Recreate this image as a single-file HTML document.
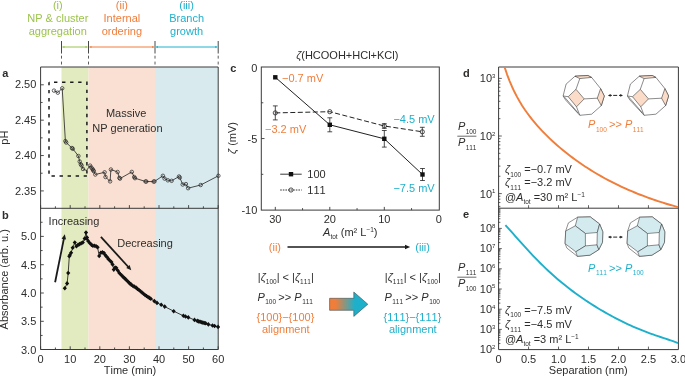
<!DOCTYPE html>
<html><head><meta charset="utf-8"><title>figure</title>
<style>html,body{margin:0;padding:0;background:#fff}svg{display:block;will-change:transform}text{font-family:"Liberation Sans",sans-serif;font-kerning:none}</style></head>
<body><svg width="685" height="377" viewBox="0 0 685 377" font-family="Liberation Sans, sans-serif">
<rect width="685" height="377" fill="#fff"/>
<text x="57.8" y="8.6" text-anchor="middle" fill="#9cc34c" font-size="11" >(i)</text>
<text x="57.8" y="21.799999999999997" text-anchor="middle" fill="#9cc34c" font-size="11" >NP &amp; cluster</text>
<text x="57.8" y="35.0" text-anchor="middle" fill="#9cc34c" font-size="11" >aggregation</text>
<text x="121.9" y="8.6" text-anchor="middle" fill="#f07d3a" font-size="11" >(ii)</text>
<text x="121.9" y="21.799999999999997" text-anchor="middle" fill="#f07d3a" font-size="11" >Internal</text>
<text x="121.9" y="35.0" text-anchor="middle" fill="#f07d3a" font-size="11" >ordering</text>
<text x="186.6" y="8.6" text-anchor="middle" fill="#1eb0cb" font-size="11" >(iii)</text>
<text x="186.6" y="21.799999999999997" text-anchor="middle" fill="#1eb0cb" font-size="11" >Branch</text>
<text x="186.6" y="35.0" text-anchor="middle" fill="#1eb0cb" font-size="11" >growth</text>
<line x1="62.5" y1="47" x2="87.5" y2="47" stroke="#9cc34c" stroke-width="1"/>
<path d="M62.3,47 l2.2,-1.1 v2.2z M87.7,47 l-2.2,-1.1 v2.2z" fill="#9cc34c"/>
<line x1="89.5" y1="47" x2="154" y2="47" stroke="#f07d3a" stroke-width="1"/>
<path d="M89.3,47 l2.2,-1.1 v2.2z M154.2,47 l-2.2,-1.1 v2.2z" fill="#f07d3a"/>
<line x1="156" y1="47" x2="217.2" y2="47" stroke="#1eb0cb" stroke-width="1"/>
<path d="M155.8,47 l2.2,-1.1 v2.2z M217.39999999999998,47 l-2.2,-1.1 v2.2z" fill="#1eb0cb"/>
<line x1="61.5" y1="41" x2="61.5" y2="53.5" stroke="#333" stroke-width="0.9"/>
<line x1="61.5" y1="55.7" x2="61.5" y2="66.5" stroke="#333" stroke-width="0.8" stroke-dasharray="2.9,3"/>
<line x1="88.5" y1="41" x2="88.5" y2="53.5" stroke="#333" stroke-width="0.9"/>
<line x1="88.5" y1="55.7" x2="88.5" y2="66.5" stroke="#333" stroke-width="0.8" stroke-dasharray="2.9,3"/>
<line x1="155" y1="41" x2="155" y2="53.5" stroke="#333" stroke-width="0.9"/>
<line x1="155" y1="55.7" x2="155" y2="66.5" stroke="#333" stroke-width="0.8" stroke-dasharray="2.9,3"/>
<line x1="218.2" y1="41" x2="218.2" y2="53.5" stroke="#333" stroke-width="0.9"/>
<line x1="218.2" y1="55.7" x2="218.2" y2="66.5" stroke="#333" stroke-width="0.8" stroke-dasharray="2.9,3"/>
<rect x="61.5" y="67" width="27" height="282.5" fill="#e2eabf"/>
<rect x="88.5" y="67" width="66.5" height="282.5" fill="#f9e0d2"/>
<rect x="155" y="67" width="63.19999999999999" height="282.5" fill="#d9eaee"/>
<path d="M40.6,67 H218.2 V349.5 H40.6 Z M40.6,208.3 H218.2" fill="none" stroke="#3a3a3a" stroke-width="1"/>
<path d="M40.60,349.5 v-3.2 M40.60,208.3 v-3.2 M55.40,349.5 v-2 M55.40,208.3 v-2 M70.20,349.5 v-3.2 M70.20,208.3 v-3.2 M85.00,349.5 v-2 M85.00,208.3 v-2 M99.80,349.5 v-3.2 M99.80,208.3 v-3.2 M114.60,349.5 v-2 M114.60,208.3 v-2 M129.40,349.5 v-3.2 M129.40,208.3 v-3.2 M144.20,349.5 v-2 M144.20,208.3 v-2 M159.00,349.5 v-3.2 M159.00,208.3 v-3.2 M173.80,349.5 v-2 M173.80,208.3 v-2 M188.60,349.5 v-3.2 M188.60,208.3 v-3.2 M203.40,349.5 v-2 M203.40,208.3 v-2 M218.20,349.5 v-3.2 M218.20,208.3 v-3.2 M40.6,84.80 h3.2 M40.6,102.48 h2 M40.6,120.17 h3.2 M40.6,137.86 h2 M40.6,155.54 h3.2 M40.6,173.22 h2 M40.6,190.91 h3.2 M40.6,222.25 h2 M40.6,236.40 h3.2 M40.6,250.55 h2 M40.6,264.70 h3.2 M40.6,278.85 h2 M40.6,293.00 h3.2 M40.6,307.15 h2 M40.6,321.30 h3.2 M40.6,335.45 h2" stroke="#3a3a3a" stroke-width="0.9" fill="none"/>
<text x="36.3" y="88.39999999999999" text-anchor="end" fill="#2e2d2c" font-size="11" >2.50</text>
<text x="36.3" y="123.76999999999987" text-anchor="end" fill="#2e2d2c" font-size="11" >2.45</text>
<text x="36.3" y="159.14000000000004" text-anchor="end" fill="#2e2d2c" font-size="11" >2.40</text>
<text x="36.3" y="194.5099999999999" text-anchor="end" fill="#2e2d2c" font-size="11" >2.35</text>
<text x="36.3" y="240.3" text-anchor="end" fill="#2e2d2c" font-size="11" >5.0</text>
<text x="36.3" y="268.59999999999997" text-anchor="end" fill="#2e2d2c" font-size="11" >4.5</text>
<text x="36.3" y="296.9" text-anchor="end" fill="#2e2d2c" font-size="11" >4.0</text>
<text x="36.3" y="325.2" text-anchor="end" fill="#2e2d2c" font-size="11" >3.5</text>
<text x="36.3" y="353.5" text-anchor="end" fill="#2e2d2c" font-size="11" >3.0</text>
<text x="40.6" y="362.7" text-anchor="middle" fill="#2e2d2c" font-size="11" >0</text>
<text x="70.2" y="362.7" text-anchor="middle" fill="#2e2d2c" font-size="11" >10</text>
<text x="99.80000000000001" y="362.7" text-anchor="middle" fill="#2e2d2c" font-size="11" >20</text>
<text x="129.4" y="362.7" text-anchor="middle" fill="#2e2d2c" font-size="11" >30</text>
<text x="159.0" y="362.7" text-anchor="middle" fill="#2e2d2c" font-size="11" >40</text>
<text x="188.6" y="362.7" text-anchor="middle" fill="#2e2d2c" font-size="11" >50</text>
<text x="218.2" y="362.7" text-anchor="middle" fill="#2e2d2c" font-size="11" >60</text>
<text x="130" y="374" text-anchor="middle" fill="#2e2d2c" font-size="11" >Time (min)</text>
<text x="2.3" y="76.5" text-anchor="start" fill="#2e2d2c" font-size="11" font-weight="bold">a</text>
<text x="2" y="218.5" text-anchor="start" fill="#2e2d2c" font-size="11" font-weight="bold">b</text>
<text transform="translate(8.4,137.6) rotate(-90)" text-anchor="middle" font-size="11" fill="#2e2d2c">pH</text>
<text transform="translate(8.4,279.3) rotate(-90)" text-anchor="middle" font-size="11" fill="#2e2d2c">Absorbance (arb. u.)</text>
<path d="M49,82.3 H86.9 V176" fill="none" stroke="#1a1a1a" stroke-width="1.5" stroke-dasharray="3.4,4.65" stroke-dashoffset="3.05"/>
<path d="M49,82.3 V176 H86.9" fill="none" stroke="#1a1a1a" stroke-width="1.5" stroke-dasharray="3.4,4.65" stroke-dashoffset="0.4"/>
<text x="146.3" y="116.7" text-anchor="end" fill="#2e2d2c" font-size="11" >Massive</text>
<text x="92.2" y="132.3" text-anchor="start" fill="#2e2d2c" font-size="11" >NP generation</text>
<polyline points="54,90.6 57.8,92.7 62.2,88.3 65.4,141.1 66.2,142.5 71.9,148 72.8,148.8 78.4,156 79.7,161.5 80.8,164.3 81.6,165.5 83,169 86.5,170.5 90.1,165.6 91.3,167.5 92.5,169 93.2,170.2 93.8,171.2 95.3,174.5 104.6,172.3 105.5,177 110.1,181.4 110.9,169.5 117.6,172 119.4,177.9 120,178.6 131.8,171.9 134.2,177 135,178.2 145.5,181.5 146.3,181.5 153.6,181.6 154.5,181.4 162.9,175.8 164.6,178.6 167.9,180.3 171.6,180.8 179,176.5 179.8,177.6 182.7,184.5 185.9,184.1 188.1,188.2 200.7,185 218.4,175.8" fill="none" stroke="#222" stroke-width="0.8"/>
<circle cx="54" cy="90.6" r="1.75" fill="none" stroke="#222" stroke-width="0.7"/>
<circle cx="57.8" cy="92.7" r="1.75" fill="none" stroke="#222" stroke-width="0.7"/>
<circle cx="62.2" cy="88.3" r="1.75" fill="none" stroke="#222" stroke-width="0.7"/>
<circle cx="65.4" cy="141.1" r="1.75" fill="none" stroke="#222" stroke-width="0.7"/>
<circle cx="66.2" cy="142.5" r="1.75" fill="none" stroke="#222" stroke-width="0.7"/>
<circle cx="71.9" cy="148" r="1.75" fill="none" stroke="#222" stroke-width="0.7"/>
<circle cx="72.8" cy="148.8" r="1.75" fill="none" stroke="#222" stroke-width="0.7"/>
<circle cx="78.4" cy="156" r="1.75" fill="none" stroke="#222" stroke-width="0.7"/>
<circle cx="79.7" cy="161.5" r="1.75" fill="none" stroke="#222" stroke-width="0.7"/>
<circle cx="80.8" cy="164.3" r="1.75" fill="none" stroke="#222" stroke-width="0.7"/>
<circle cx="81.6" cy="165.5" r="1.75" fill="none" stroke="#222" stroke-width="0.7"/>
<circle cx="83" cy="169" r="1.75" fill="none" stroke="#222" stroke-width="0.7"/>
<circle cx="90.1" cy="165.6" r="1.75" fill="none" stroke="#222" stroke-width="0.7"/>
<circle cx="91.3" cy="167.5" r="1.75" fill="none" stroke="#222" stroke-width="0.7"/>
<circle cx="92.5" cy="169" r="1.75" fill="none" stroke="#222" stroke-width="0.7"/>
<circle cx="93.2" cy="170.2" r="1.75" fill="none" stroke="#222" stroke-width="0.7"/>
<circle cx="93.8" cy="171.2" r="1.75" fill="none" stroke="#222" stroke-width="0.7"/>
<circle cx="95.3" cy="174.5" r="1.75" fill="none" stroke="#222" stroke-width="0.7"/>
<circle cx="104.6" cy="172.3" r="1.75" fill="none" stroke="#222" stroke-width="0.7"/>
<circle cx="105.5" cy="177" r="1.75" fill="none" stroke="#222" stroke-width="0.7"/>
<circle cx="110.1" cy="181.4" r="1.75" fill="none" stroke="#222" stroke-width="0.7"/>
<circle cx="110.9" cy="169.5" r="1.75" fill="none" stroke="#222" stroke-width="0.7"/>
<circle cx="117.6" cy="172" r="1.75" fill="none" stroke="#222" stroke-width="0.7"/>
<circle cx="119.4" cy="177.9" r="1.75" fill="none" stroke="#222" stroke-width="0.7"/>
<circle cx="120" cy="178.6" r="1.75" fill="none" stroke="#222" stroke-width="0.7"/>
<circle cx="131.8" cy="171.9" r="1.75" fill="none" stroke="#222" stroke-width="0.7"/>
<circle cx="134.2" cy="177" r="1.75" fill="none" stroke="#222" stroke-width="0.7"/>
<circle cx="135" cy="178.2" r="1.75" fill="none" stroke="#222" stroke-width="0.7"/>
<circle cx="145.5" cy="181.5" r="1.75" fill="none" stroke="#222" stroke-width="0.7"/>
<circle cx="146.3" cy="181.5" r="1.75" fill="none" stroke="#222" stroke-width="0.7"/>
<circle cx="153.6" cy="181.6" r="1.75" fill="none" stroke="#222" stroke-width="0.7"/>
<circle cx="154.5" cy="181.4" r="1.75" fill="none" stroke="#222" stroke-width="0.7"/>
<circle cx="162.9" cy="175.8" r="1.75" fill="none" stroke="#222" stroke-width="0.7"/>
<circle cx="164.6" cy="178.6" r="1.75" fill="none" stroke="#222" stroke-width="0.7"/>
<circle cx="167.9" cy="180.3" r="1.75" fill="none" stroke="#222" stroke-width="0.7"/>
<circle cx="171.6" cy="180.8" r="1.75" fill="none" stroke="#222" stroke-width="0.7"/>
<circle cx="179" cy="176.5" r="1.75" fill="none" stroke="#222" stroke-width="0.7"/>
<circle cx="179.8" cy="177.6" r="1.75" fill="none" stroke="#222" stroke-width="0.7"/>
<circle cx="182.7" cy="184.5" r="1.75" fill="none" stroke="#222" stroke-width="0.7"/>
<circle cx="185.9" cy="184.1" r="1.75" fill="none" stroke="#222" stroke-width="0.7"/>
<circle cx="188.1" cy="188.2" r="1.75" fill="none" stroke="#222" stroke-width="0.7"/>
<circle cx="200.7" cy="185" r="1.75" fill="none" stroke="#222" stroke-width="0.7"/>
<circle cx="218.4" cy="175.8" r="1.75" fill="none" stroke="#222" stroke-width="0.7"/>
<polyline points="64.8,288.3 67.1,283.4 68.2,273 69.3,256.3 70.1,254.7 71.1,252.8 72.7,247.8 74.8,242.5 76.4,246.2 78,244.9 79.6,244.1 81.2,243.2 82.8,242.5 84.7,238.6 86,232.6 87,237.6 88.1,240.9 89.7,243 91.3,244.6 92.9,245.7 94.5,245.7 96.1,246.2 97.6,247.3 99.2,256 100.8,252.8 102.4,252.4 104,253.1 105.1,254.7 106.1,256.3 107.2,257.3 108.3,258.9 109.8,260.5 111.4,262.1 112.6,264.5 113.8,269.6 115.1,267.5 116.4,268 117.8,270.5 119.1,272.8 120.5,274.2 121.8,275.5 123.1,276.9 124.4,278.1 125.8,279.4 127.1,280.8 128.4,282.1 129.7,283.4 131.2,284.6 132.7,285.7 134.2,286.6 136,287.6 137.5,288.9 139,290 140.5,291.3 142,292.5 143.5,293.8 145,295 146.5,296 148,297 149.4,297.9 150.8,298.7 154.3,301.1 157,302.9 161.2,304.7 164.7,306.6 173.7,311.2 183.4,315.8 185.5,316.5 188.3,317.4 194.5,319.9 197.3,320.9 198.7,321.4 200.1,321.8 201.5,322.2 202.9,322.6 204.3,323 205.6,323.3 208.4,324.4 212.5,325.5 214.6,326 218.1,326.9" fill="none" stroke="#111" stroke-width="0.8"/>
<path d="M64.8,286.0l2.1,2.3l-2.1,2.3l-2.1,-2.3zM67.1,281.09999999999997l2.1,2.3l-2.1,2.3l-2.1,-2.3zM68.2,270.7l2.1,2.3l-2.1,2.3l-2.1,-2.3zM69.3,254.0l2.1,2.3l-2.1,2.3l-2.1,-2.3zM70.1,252.39999999999998l2.1,2.3l-2.1,2.3l-2.1,-2.3zM71.1,250.5l2.1,2.3l-2.1,2.3l-2.1,-2.3zM72.7,245.5l2.1,2.3l-2.1,2.3l-2.1,-2.3zM74.8,240.2l2.1,2.3l-2.1,2.3l-2.1,-2.3zM76.4,243.89999999999998l2.1,2.3l-2.1,2.3l-2.1,-2.3zM78,242.6l2.1,2.3l-2.1,2.3l-2.1,-2.3zM79.6,241.79999999999998l2.1,2.3l-2.1,2.3l-2.1,-2.3zM81.2,240.89999999999998l2.1,2.3l-2.1,2.3l-2.1,-2.3zM82.8,240.2l2.1,2.3l-2.1,2.3l-2.1,-2.3zM84.7,236.29999999999998l2.1,2.3l-2.1,2.3l-2.1,-2.3zM86,230.29999999999998l2.1,2.3l-2.1,2.3l-2.1,-2.3zM87,235.29999999999998l2.1,2.3l-2.1,2.3l-2.1,-2.3zM88.1,238.6l2.1,2.3l-2.1,2.3l-2.1,-2.3zM89.7,240.7l2.1,2.3l-2.1,2.3l-2.1,-2.3zM91.3,242.29999999999998l2.1,2.3l-2.1,2.3l-2.1,-2.3zM92.9,243.39999999999998l2.1,2.3l-2.1,2.3l-2.1,-2.3zM94.5,243.39999999999998l2.1,2.3l-2.1,2.3l-2.1,-2.3zM96.1,243.89999999999998l2.1,2.3l-2.1,2.3l-2.1,-2.3zM97.6,245.0l2.1,2.3l-2.1,2.3l-2.1,-2.3zM99.2,253.7l2.1,2.3l-2.1,2.3l-2.1,-2.3zM100.8,250.5l2.1,2.3l-2.1,2.3l-2.1,-2.3zM102.4,250.1l2.1,2.3l-2.1,2.3l-2.1,-2.3zM104,250.79999999999998l2.1,2.3l-2.1,2.3l-2.1,-2.3zM105.1,252.39999999999998l2.1,2.3l-2.1,2.3l-2.1,-2.3zM106.1,254.0l2.1,2.3l-2.1,2.3l-2.1,-2.3zM107.2,255.0l2.1,2.3l-2.1,2.3l-2.1,-2.3zM108.3,256.59999999999997l2.1,2.3l-2.1,2.3l-2.1,-2.3zM109.8,258.2l2.1,2.3l-2.1,2.3l-2.1,-2.3zM111.4,259.8l2.1,2.3l-2.1,2.3l-2.1,-2.3zM112.6,262.2l2.1,2.3l-2.1,2.3l-2.1,-2.3zM113.8,267.3l2.1,2.3l-2.1,2.3l-2.1,-2.3zM115.1,265.2l2.1,2.3l-2.1,2.3l-2.1,-2.3zM116.4,265.7l2.1,2.3l-2.1,2.3l-2.1,-2.3zM117.8,268.2l2.1,2.3l-2.1,2.3l-2.1,-2.3zM119.1,270.5l2.1,2.3l-2.1,2.3l-2.1,-2.3zM120.5,271.9l2.1,2.3l-2.1,2.3l-2.1,-2.3zM121.8,273.2l2.1,2.3l-2.1,2.3l-2.1,-2.3zM123.1,274.59999999999997l2.1,2.3l-2.1,2.3l-2.1,-2.3zM124.4,275.8l2.1,2.3l-2.1,2.3l-2.1,-2.3zM125.8,277.09999999999997l2.1,2.3l-2.1,2.3l-2.1,-2.3zM127.1,278.5l2.1,2.3l-2.1,2.3l-2.1,-2.3zM128.4,279.8l2.1,2.3l-2.1,2.3l-2.1,-2.3zM129.7,281.09999999999997l2.1,2.3l-2.1,2.3l-2.1,-2.3zM131.2,282.3l2.1,2.3l-2.1,2.3l-2.1,-2.3zM132.7,283.4l2.1,2.3l-2.1,2.3l-2.1,-2.3zM134.2,284.3l2.1,2.3l-2.1,2.3l-2.1,-2.3zM136,285.3l2.1,2.3l-2.1,2.3l-2.1,-2.3zM137.5,286.59999999999997l2.1,2.3l-2.1,2.3l-2.1,-2.3zM139,287.7l2.1,2.3l-2.1,2.3l-2.1,-2.3zM140.5,289.0l2.1,2.3l-2.1,2.3l-2.1,-2.3zM142,290.2l2.1,2.3l-2.1,2.3l-2.1,-2.3zM143.5,291.5l2.1,2.3l-2.1,2.3l-2.1,-2.3zM145,292.7l2.1,2.3l-2.1,2.3l-2.1,-2.3zM146.5,293.7l2.1,2.3l-2.1,2.3l-2.1,-2.3zM148,294.7l2.1,2.3l-2.1,2.3l-2.1,-2.3zM149.4,295.59999999999997l2.1,2.3l-2.1,2.3l-2.1,-2.3zM150.8,296.4l2.1,2.3l-2.1,2.3l-2.1,-2.3zM154.3,298.8l2.1,2.3l-2.1,2.3l-2.1,-2.3zM157,300.59999999999997l2.1,2.3l-2.1,2.3l-2.1,-2.3zM161.2,302.4l2.1,2.3l-2.1,2.3l-2.1,-2.3zM164.7,304.3l2.1,2.3l-2.1,2.3l-2.1,-2.3zM173.7,308.9l2.1,2.3l-2.1,2.3l-2.1,-2.3zM183.4,313.5l2.1,2.3l-2.1,2.3l-2.1,-2.3zM185.5,314.2l2.1,2.3l-2.1,2.3l-2.1,-2.3zM188.3,315.09999999999997l2.1,2.3l-2.1,2.3l-2.1,-2.3zM194.5,317.59999999999997l2.1,2.3l-2.1,2.3l-2.1,-2.3zM197.3,318.59999999999997l2.1,2.3l-2.1,2.3l-2.1,-2.3zM198.7,319.09999999999997l2.1,2.3l-2.1,2.3l-2.1,-2.3zM200.1,319.5l2.1,2.3l-2.1,2.3l-2.1,-2.3zM201.5,319.9l2.1,2.3l-2.1,2.3l-2.1,-2.3zM202.9,320.3l2.1,2.3l-2.1,2.3l-2.1,-2.3zM204.3,320.7l2.1,2.3l-2.1,2.3l-2.1,-2.3zM205.6,321.0l2.1,2.3l-2.1,2.3l-2.1,-2.3zM208.4,322.09999999999997l2.1,2.3l-2.1,2.3l-2.1,-2.3zM212.5,323.2l2.1,2.3l-2.1,2.3l-2.1,-2.3zM214.6,323.7l2.1,2.3l-2.1,2.3l-2.1,-2.3zM218.1,324.59999999999997l2.1,2.3l-2.1,2.3l-2.1,-2.3z" fill="#111"/>
<text x="48.6" y="225.2" text-anchor="start" fill="#2e2d2c" font-size="11" >Increasing</text>
<text x="117.2" y="247.3" text-anchor="start" fill="#2e2d2c" font-size="11" >Decreasing</text>
<line x1="55.1" y1="282.2" x2="64.01" y2="238.12" stroke="#1a1a1a" stroke-width="1.8"/>
<path d="M64.80,234.20 L66.06,239.56 L61.56,238.65z" fill="#1a1a1a"/>
<line x1="100.9" y1="236.9" x2="128.60" y2="267.25" stroke="#1a1a1a" stroke-width="1.8"/>
<path d="M131.30,270.20 L126.23,268.06 L129.63,264.96z" fill="#1a1a1a"/>
<rect x="261.3" y="67" width="178.0" height="143.1" fill="none" stroke="#3a3a3a" stroke-width="1"/>
<path d="M275.30,210.1 v-3.2 M302.55,210.1 v-2 M329.80,210.1 v-3.2 M357.05,210.1 v-2 M384.30,210.1 v-3.2 M411.55,210.1 v-2 M261.3,102.78 h2 M261.3,138.55 h3.2 M261.3,174.32 h2" stroke="#3a3a3a" stroke-width="0.9" fill="none"/>
<text x="257.3" y="71.5" text-anchor="end" fill="#2e2d2c" font-size="11" >0</text>
<text x="257.3" y="142.9" text-anchor="end" fill="#2e2d2c" font-size="11" >-5</text>
<text x="257.3" y="214" text-anchor="end" fill="#2e2d2c" font-size="11" >-10</text>
<text x="275.3" y="223.1" text-anchor="middle" fill="#2e2d2c" font-size="11" >30</text>
<text x="329.8" y="223.1" text-anchor="middle" fill="#2e2d2c" font-size="11" >20</text>
<text x="384.3" y="223.1" text-anchor="middle" fill="#2e2d2c" font-size="11" >10</text>
<text x="438.8" y="223.1" text-anchor="middle" fill="#2e2d2c" font-size="11" >0</text>
<text x="230.3" y="71.9" text-anchor="start" fill="#2e2d2c" font-size="11" font-weight="bold">c</text>
<text x="347.3" y="58.9" text-anchor="middle" font-size="11" fill="#2e2d2c"><tspan font-style="italic">ζ</tspan>(HCOOH+HCl+KCl)</text>
<text transform="translate(235.6,138) rotate(-90)" text-anchor="middle" font-size="11" fill="#2e2d2c"><tspan font-style="italic">ζ</tspan> (mV)</text>
<text x="323.1" y="235.9" font-size="11" fill="#2e2d2c"><tspan font-style="italic">A</tspan><tspan font-size="6.5" dy="2.6">tot</tspan><tspan dy="-2.6"> (m² L</tspan><tspan font-size="6.5" dy="-4">−1</tspan><tspan dy="4">)</tspan></text>
<polyline points="275.3,77.3 329.8,124.8 384.3,138.8 422.5,174.5" fill="none" stroke="#222" stroke-width="1"/>
<polyline points="275.3,112.9 329.8,111.7 384.3,126 422.3,131.8" fill="none" stroke="#222" stroke-width="1" stroke-dasharray="5,2.5"/>
<path d="M329.8,117.8V131.8M327.40000000000003,117.8h4.8M327.40000000000003,131.8h4.8M384.3,130.5V147.10000000000002M381.90000000000003,130.5h4.8M381.90000000000003,147.10000000000002h4.8M422.5,168.5V180.5M420.1,168.5h4.8M420.1,180.5h4.8M275.3,105.9V119.9M272.90000000000003,105.9h4.8M272.90000000000003,119.9h4.8M384.3,123.7V128.3M381.90000000000003,123.7h4.8M381.90000000000003,128.3h4.8M422.3,127.30000000000001V136.3M419.90000000000003,127.30000000000001h4.8M419.90000000000003,136.3h4.8" stroke="#222" stroke-width="0.8" fill="none"/>
<rect x="273.1" y="75.1" width="4.4" height="4.4" fill="#111"/>
<rect x="327.6" y="122.6" width="4.4" height="4.4" fill="#111"/>
<rect x="382.1" y="136.60000000000002" width="4.4" height="4.4" fill="#111"/>
<rect x="420.3" y="172.3" width="4.4" height="4.4" fill="#111"/>
<circle cx="275.3" cy="112.9" r="2.1" fill="none" stroke="#222" stroke-width="0.8"/>
<circle cx="329.8" cy="111.7" r="2.1" fill="none" stroke="#222" stroke-width="0.8"/>
<circle cx="384.3" cy="126" r="2.1" fill="none" stroke="#222" stroke-width="0.8"/>
<circle cx="422.3" cy="131.8" r="2.1" fill="none" stroke="#222" stroke-width="0.8"/>
<text x="282" y="81.5" text-anchor="start" fill="#f07d3a" font-size="11" >−0.7 mV</text>
<text x="265" y="132.7" text-anchor="start" fill="#f07d3a" font-size="11" >−3.2 mV</text>
<text x="393.4" y="123.4" text-anchor="start" fill="#1eb0cb" font-size="11" >−4.5 mV</text>
<text x="393.4" y="192" text-anchor="start" fill="#1eb0cb" font-size="11" >−7.5 mV</text>
<line x1="280.2" y1="174.2" x2="301.7" y2="174.2" stroke="#222" stroke-width="0.9"/><rect x="288.8" y="172" width="4.4" height="4.4" fill="#111"/>
<line x1="280.2" y1="190" x2="301.7" y2="190" stroke="#222" stroke-width="0.9" stroke-dasharray="1.6,1"/><circle cx="291" cy="190" r="2.1" fill="none" stroke="#222" stroke-width="0.8"/>
<text x="307.3" y="177.7" text-anchor="start" fill="#2e2d2c" font-size="11" >100</text>
<text x="307.3" y="193.5" text-anchor="start" fill="#2e2d2c" font-size="11" >111</text>
<text x="268.8" y="250.8" text-anchor="start" fill="#f07d3a" font-size="11" >(ii)</text>
<text x="415.3" y="250.8" text-anchor="start" fill="#1eb0cb" font-size="11" >(iii)</text>
<line x1="287.5" y1="247" x2="406.00" y2="247.00" stroke="#1a1a1a" stroke-width="1.4"/>
<path d="M410.20,247.00 L405.00,249.30 L405.00,244.70z" fill="#1a1a1a"/>
<text x="285.8" y="281.2" text-anchor="middle" font-size="11" fill="#2e2d2c">|<tspan font-style="italic">ζ</tspan><tspan font-size="6.5" dy="2.8">100</tspan><tspan dy="-2.8">| &lt; |</tspan><tspan font-style="italic">ζ</tspan><tspan font-size="6.5" dy="2.8">111</tspan><tspan dy="-2.8">|</tspan></text>
<text x="285.2" y="300.5" text-anchor="middle" font-size="11" fill="#2e2d2c"><tspan font-style="italic">P</tspan><tspan font-size="6.5" dy="3.4" dx="0.5">100</tspan><tspan dy="-3.4" dx="-0.8"> &gt;&gt; </tspan><tspan font-style="italic">P</tspan><tspan font-size="6.5" dy="3.4" dx="0.5">111</tspan></text>
<text x="285.4" y="321.3" text-anchor="middle" fill="#f07d3a" font-size="11" >{100}−{100}</text>
<text x="285.8" y="333" text-anchor="middle" fill="#f07d3a" font-size="11" >alignment</text>
<text x="412.8" y="281.2" text-anchor="middle" font-size="11" fill="#2e2d2c">|<tspan font-style="italic">ζ</tspan><tspan font-size="6.5" dy="2.8">111</tspan><tspan dy="-2.8">| &lt; |</tspan><tspan font-style="italic">ζ</tspan><tspan font-size="6.5" dy="2.8">100</tspan><tspan dy="-2.8">|</tspan></text>
<text x="412.2" y="300.5" text-anchor="middle" font-size="11" fill="#2e2d2c"><tspan font-style="italic">P</tspan><tspan font-size="6.5" dy="3.4" dx="0.5">111</tspan><tspan dy="-3.4" dx="-0.8"> &gt;&gt; </tspan><tspan font-style="italic">P</tspan><tspan font-size="6.5" dy="3.4" dx="0.5">100</tspan></text>
<text x="412.4" y="321.3" text-anchor="middle" fill="#1eb0cb" font-size="11" >{111}−{111}</text>
<text x="412.8" y="333" text-anchor="middle" fill="#1eb0cb" font-size="11" >alignment</text>
<defs><linearGradient id="g" x1="0" x2="1" y1="0" y2="0"><stop offset="0.15" stop-color="#f07d3a"/><stop offset="0.66" stop-color="#1eb0cb"/></linearGradient></defs>
<path d="M329.6,298.3 H353.8 V292 L367.8,304.2 L353.8,316.4 V310.3 H329.6Z" fill="url(#g)" stroke="#3f4a4e" stroke-width="0.6"/>
<path d="M498.6,67 H678.4 V349.6 H498.6 Z M498.6,208.2 H678.4" fill="none" stroke="#3a3a3a" stroke-width="1"/>
<path d="M528.57,208.2 v-3 M528.57,349.6 v-3 M558.53,208.2 v-3 M558.53,349.6 v-3 M588.50,208.2 v-3 M588.50,349.6 v-3 M618.47,208.2 v-3 M618.47,349.6 v-3 M648.43,208.2 v-3 M648.43,349.6 v-3 M498.6,206.38 h1.8 M498.6,202.52 h1.8 M498.6,199.18 h1.8 M498.6,196.24 h1.8 M498.6,193.60 h3.2 M498.6,176.26 h1.8 M498.6,166.12 h1.8 M498.6,158.92 h1.8 M498.6,153.34 h1.8 M498.6,148.78 h1.8 M498.6,144.92 h1.8 M498.6,141.58 h1.8 M498.6,138.64 h1.8 M498.6,136.00 h3.2 M498.6,118.66 h1.8 M498.6,108.52 h1.8 M498.6,101.32 h1.8 M498.6,95.74 h1.8 M498.6,91.18 h1.8 M498.6,87.32 h1.8 M498.6,83.98 h1.8 M498.6,81.04 h1.8 M498.6,78.40 h3.2 M498.6,343.52 h1.8 M498.6,339.96 h1.8 M498.6,337.44 h1.8 M498.6,335.48 h1.8 M498.6,333.88 h1.8 M498.6,332.53 h1.8 M498.6,331.36 h1.8 M498.6,330.32 h1.8 M498.6,329.40 h3.2 M498.6,323.32 h1.8 M498.6,319.76 h1.8 M498.6,317.24 h1.8 M498.6,315.28 h1.8 M498.6,313.68 h1.8 M498.6,312.33 h1.8 M498.6,311.16 h1.8 M498.6,310.12 h1.8 M498.6,309.20 h3.2 M498.6,303.12 h1.8 M498.6,299.56 h1.8 M498.6,297.04 h1.8 M498.6,295.08 h1.8 M498.6,293.48 h1.8 M498.6,292.13 h1.8 M498.6,290.96 h1.8 M498.6,289.92 h1.8 M498.6,289.00 h3.2 M498.6,282.92 h1.8 M498.6,279.36 h1.8 M498.6,276.84 h1.8 M498.6,274.88 h1.8 M498.6,273.28 h1.8 M498.6,271.93 h1.8 M498.6,270.76 h1.8 M498.6,269.72 h1.8 M498.6,268.80 h3.2 M498.6,262.72 h1.8 M498.6,259.16 h1.8 M498.6,256.64 h1.8 M498.6,254.68 h1.8 M498.6,253.08 h1.8 M498.6,251.73 h1.8 M498.6,250.56 h1.8 M498.6,249.52 h1.8 M498.6,248.60 h3.2 M498.6,242.52 h1.8 M498.6,238.96 h1.8 M498.6,236.44 h1.8 M498.6,234.48 h1.8 M498.6,232.88 h1.8 M498.6,231.53 h1.8 M498.6,230.36 h1.8 M498.6,229.32 h1.8 M498.6,228.40 h3.2 M498.6,222.32 h1.8 M498.6,218.76 h1.8 M498.6,216.24 h1.8 M498.6,214.28 h1.8 M498.6,212.68 h1.8 M498.6,211.33 h1.8 M498.6,210.16 h1.8 M498.6,209.12 h1.8" stroke="#3a3a3a" stroke-width="0.8" fill="none"/>
<text x="495.4" y="197.5" text-anchor="end" font-size="11" fill="#2e2d2c">10<tspan font-size="6" dy="-4.2">1</tspan></text>
<text x="495.4" y="139.9" text-anchor="end" font-size="11" fill="#2e2d2c">10<tspan font-size="6" dy="-4.2">2</tspan></text>
<text x="495.4" y="82.3" text-anchor="end" font-size="11" fill="#2e2d2c">10<tspan font-size="6" dy="-4.2">3</tspan></text>
<text x="495.4" y="353.20000000000005" text-anchor="end" font-size="11" fill="#2e2d2c">10<tspan font-size="6" dy="-4.2">2</tspan></text>
<text x="495.4" y="333.00000000000006" text-anchor="end" font-size="11" fill="#2e2d2c">10<tspan font-size="6" dy="-4.2">3</tspan></text>
<text x="495.4" y="312.80000000000007" text-anchor="end" font-size="11" fill="#2e2d2c">10<tspan font-size="6" dy="-4.2">4</tspan></text>
<text x="495.4" y="292.6" text-anchor="end" font-size="11" fill="#2e2d2c">10<tspan font-size="6" dy="-4.2">5</tspan></text>
<text x="495.4" y="272.40000000000003" text-anchor="end" font-size="11" fill="#2e2d2c">10<tspan font-size="6" dy="-4.2">6</tspan></text>
<text x="495.4" y="252.20000000000002" text-anchor="end" font-size="11" fill="#2e2d2c">10<tspan font-size="6" dy="-4.2">7</tspan></text>
<text x="495.4" y="232.00000000000003" text-anchor="end" font-size="11" fill="#2e2d2c">10<tspan font-size="6" dy="-4.2">8</tspan></text>
<text x="498.6" y="362.7" text-anchor="middle" fill="#2e2d2c" font-size="11" >0</text>
<text x="528.5666666666667" y="362.7" text-anchor="middle" fill="#2e2d2c" font-size="11" >0.5</text>
<text x="558.5333333333333" y="362.7" text-anchor="middle" fill="#2e2d2c" font-size="11" >1.0</text>
<text x="588.5" y="362.7" text-anchor="middle" fill="#2e2d2c" font-size="11" >1.5</text>
<text x="618.4666666666667" y="362.7" text-anchor="middle" fill="#2e2d2c" font-size="11" >2.0</text>
<text x="648.4333333333333" y="362.7" text-anchor="middle" fill="#2e2d2c" font-size="11" >2.5</text>
<text x="678.4" y="362.7" text-anchor="middle" fill="#2e2d2c" font-size="11" >3.0</text>
<text x="588.3" y="374" text-anchor="middle" fill="#2e2d2c" font-size="11" >Separation (nm)</text>
<text x="463.1" y="76.8" text-anchor="start" fill="#2e2d2c" font-size="11" font-weight="bold">d</text>
<text x="463.1" y="217.8" text-anchor="start" fill="#2e2d2c" font-size="11" font-weight="bold">e</text>
<text x="457.9" y="129.5" font-size="11" fill="#2e2d2c"><tspan font-style="italic">P</tspan><tspan font-size="6.5" dy="4.2" dx="0.4">100</tspan></text>
<line x1="457.3" y1="136.2" x2="476.4" y2="136.2" stroke="#2e2d2c" stroke-width="0.7"/>
<text x="457.9" y="145.6" font-size="11" fill="#2e2d2c"><tspan font-style="italic">P</tspan><tspan font-size="6.5" dy="4.2" dx="0.4">111</tspan></text>
<text x="457.9" y="271" font-size="11" fill="#2e2d2c"><tspan font-style="italic">P</tspan><tspan font-size="6.5" dy="4.2" dx="0.4">111</tspan></text>
<line x1="457.3" y1="277.2" x2="476.4" y2="277.2" stroke="#2e2d2c" stroke-width="0.7"/>
<text x="457.9" y="287.2" font-size="11" fill="#2e2d2c"><tspan font-style="italic">P</tspan><tspan font-size="6.5" dy="4.2" dx="0.4">100</tspan></text>
<text x="504.9" y="172.8" font-size="11" fill="#2e2d2c"><tspan font-style="italic">ζ</tspan><tspan font-size="6.5" dy="3.9" dx="0.3">100</tspan><tspan dy="-3.9"> =−0.7 mV</tspan></text>
<text x="504.9" y="186.3" font-size="11" fill="#2e2d2c"><tspan font-style="italic">ζ</tspan><tspan font-size="6.5" dy="3.9" dx="0.3">111</tspan><tspan dy="-3.9"> =−3.2 mV</tspan></text>
<text x="504.9" y="200.6" font-size="11" fill="#2e2d2c">@<tspan font-style="italic">A</tspan><tspan font-size="6.5" dy="3.3">tot</tspan><tspan dy="-3.3"> =30 m² L</tspan><tspan font-size="6.5" dy="-4">−1</tspan></text>
<text x="504.9" y="313.5" font-size="11" fill="#2e2d2c"><tspan font-style="italic">ζ</tspan><tspan font-size="6.5" dy="3.9" dx="0.3">100</tspan><tspan dy="-3.9"> =−7.5 mV</tspan></text>
<text x="504.9" y="328" font-size="11" fill="#2e2d2c"><tspan font-style="italic">ζ</tspan><tspan font-size="6.5" dy="3.9" dx="0.3">111</tspan><tspan dy="-3.9"> =−4.5 mV</tspan></text>
<text x="504.9" y="342.6" font-size="11" fill="#2e2d2c">@<tspan font-style="italic">A</tspan><tspan font-size="6.5" dy="3.3">tot</tspan><tspan dy="-3.3"> =3 m² L</tspan><tspan font-size="6.5" dy="-4">−1</tspan></text>
<polyline points="504.60,67.13 507.11,74.54 509.63,81.11 512.14,86.99 514.65,92.29 517.17,97.12 519.68,101.55 522.19,105.65 524.70,109.47 527.22,113.05 529.73,116.43 532.24,119.63 534.76,122.68 537.27,125.60 539.78,128.40 542.30,131.09 544.81,133.69 547.32,136.19 549.83,138.62 552.35,140.98 554.86,143.27 557.37,145.49 559.89,147.65 562.40,149.75 564.91,151.80 567.43,153.79 569.94,155.74 572.45,157.63 574.97,159.48 577.48,161.28 579.99,163.04 582.50,164.76 585.02,166.44 587.53,168.07 590.04,169.67 592.56,171.23 595.07,172.75 597.58,174.23 600.10,175.68 602.61,177.10 605.12,178.48 607.63,179.83 610.15,181.15 612.66,182.44 615.17,183.70 617.69,184.92 620.20,186.12 622.71,187.29 625.23,188.44 627.74,189.55 630.25,190.64 632.77,191.71 635.28,192.75 637.79,193.76 640.30,194.75 642.82,195.72 645.33,196.67 647.84,197.59 650.36,198.49 652.87,199.37 655.38,200.23 657.90,201.07 660.41,201.89 662.92,202.69 665.43,203.47 667.95,204.24 670.46,204.98 672.97,205.71 675.49,206.42 678.00,207.12" fill="none" stroke="#f07d3a" stroke-width="1.9" stroke-linejoin="round"/>
<polyline points="505.40,225.15 507.90,227.89 510.40,230.67 512.90,233.47 515.41,236.29 517.91,239.10 520.41,241.90 522.91,244.69 525.41,247.45 527.91,250.18 530.41,252.87 532.92,255.53 535.42,258.14 537.92,260.71 540.42,263.22 542.92,265.69 545.42,268.10 547.92,270.47 550.43,272.78 552.93,275.04 555.43,277.25 557.93,279.41 560.43,281.52 562.93,283.58 565.43,285.60 567.94,287.57 570.44,289.49 572.94,291.38 575.44,293.22 577.94,295.03 580.44,296.79 582.94,298.52 585.45,300.22 587.95,301.88 590.45,303.51 592.95,305.10 595.45,306.67 597.95,308.20 600.46,309.70 602.96,311.18 605.46,312.62 607.96,314.04 610.46,315.42 612.96,316.78 615.46,318.11 617.97,319.40 620.47,320.67 622.97,321.91 625.47,323.12 627.97,324.29 630.47,325.44 632.97,326.56 635.48,327.64 637.98,328.69 640.48,329.72 642.98,330.71 645.48,331.68 647.98,332.62 650.48,333.53 652.99,334.42 655.49,335.29 657.99,336.15 660.49,336.99 662.99,337.83 665.49,338.66 667.99,339.50 670.50,340.35 673.00,341.22 675.50,342.12 678.00,343.06" fill="none" stroke="#1eb0cb" stroke-width="1.9" stroke-linejoin="round"/>
<text x="588.1" y="128.1" text-anchor="start" font-size="11" fill="#f07d3a"><tspan font-style="italic">P</tspan><tspan font-size="6.5" dy="3.4" dx="0.5">100</tspan><tspan dy="-3.4" dx="-0.8"> &gt;&gt; </tspan><tspan font-style="italic">P</tspan><tspan font-size="6.5" dy="3.4" dx="0.5">111</tspan></text>
<text x="588.1" y="271.5" text-anchor="start" font-size="11" fill="#1eb0cb"><tspan font-style="italic">P</tspan><tspan font-size="6.5" dy="3.4" dx="0.5">111</tspan><tspan dy="-3.4" dx="-0.8"> &gt;&gt; </tspan><tspan font-style="italic">P</tspan><tspan font-size="6.5" dy="3.4" dx="0.5">100</tspan></text>
<g transform="translate(0.3,0.5)" stroke="#2c2c2c" stroke-width="0.55" stroke-linejoin="round" fill="none"><path d="M639,75.7 L651.9,75 L655.6,76.9 L664.6,88.1 L668.3,95.5 L665.3,105.1 L655.6,113.7 L643.8,114.8 L629.6,99.5 L627.1,95.5 L630.1,83.6Z" fill="#fff"/><path d="M639,75.7 L651.9,75 L655.6,76.9 L643.8,78.1Z" fill="#fbdcc8"/><path d="M640,88.8 L648.2,98.4 L640.5,106.3 L632.2,96.2Z" fill="#fbdcc8"/><path d="M664.6,88.1 L668.3,95.5 L665.3,105.1 L661.3,97.7Z" fill="#fbdcc8"/><path d="M643.8,78.1 L640,88.8 M648.2,98.4 L661.3,97.7 M640.5,106.3 L643.8,114.8 M632.2,96.2 L627.1,95.5 M628.2,96.2 L642.3,112.6"/></g>
<g transform="translate(-64.0,0.5)" stroke="#2c2c2c" stroke-width="0.55" stroke-linejoin="round" fill="none"><path d="M639,75.7 L651.9,75 L655.6,76.9 L664.6,88.1 L668.3,95.5 L665.3,105.1 L655.6,113.7 L643.8,114.8 L629.6,99.5 L627.1,95.5 L630.1,83.6Z" fill="#fff"/><path d="M639,75.7 L651.9,75 L655.6,76.9 L643.8,78.1Z" fill="#fbdcc8"/><path d="M640,88.8 L648.2,98.4 L640.5,106.3 L632.2,96.2Z" fill="#fbdcc8"/><path d="M664.6,88.1 L668.3,95.5 L665.3,105.1 L661.3,97.7Z" fill="#fbdcc8"/><path d="M643.8,78.1 L640,88.8 M648.2,98.4 L661.3,97.7 M640.5,106.3 L643.8,114.8 M632.2,96.2 L627.1,95.5 M628.2,96.2 L642.3,112.6"/></g>
<path d="M609.4,95.4H611.9M613.1999999999999,95.4H617.1999999999999M619.0,95.4H621.5" stroke="#222" stroke-width="1" fill="none"/>
<path d="M607.9,95.4 l2.8,-1.4 v2.8z M623.0,95.4 l-2.8,-1.4 v2.8z" fill="#222"/>
<g transform="translate(0,0)" stroke="#333" stroke-width="0.55" stroke-linejoin="round" fill="none"><path d="M577.6,217.2 L590.3,216.9 L599.6,224 L602.8,231.8 L602.5,242.2 L598.8,249.6 L589.9,255.2 L577.3,256.3 L566.9,248.1 L565.1,243.6 L565.7,231 L568.4,222.9Z" fill="#fff"/><path d="M577.6,217.2 L590.3,216.9 L599.6,224 L597.3,232.5 L585.4,233.5 L575.3,225.8Z" fill="#d3ebef"/><path d="M575.3,225.8 L585.4,233.5 L585.4,245.9 L575.8,251.8 L565.1,243.6 L565.7,231Z" fill="#d3ebef"/><path d="M585.4,245.9 L597,244.8 L598.8,249.6 L589.9,255.2 L577.3,256.3 L575.8,251.8Z" fill="#d3ebef"/><path d="M599.6,224 L602.8,231.8 L602.5,242.2 L598.8,249.6 L597,244.8 L597.3,232.5Z" fill="#d3ebef"/></g>
<g transform="translate(62,0)" stroke="#333" stroke-width="0.55" stroke-linejoin="round" fill="none"><path d="M577.6,217.2 L590.3,216.9 L599.6,224 L602.8,231.8 L602.5,242.2 L598.8,249.6 L589.9,255.2 L577.3,256.3 L566.9,248.1 L565.1,243.6 L565.7,231 L568.4,222.9Z" fill="#fff"/><path d="M577.6,217.2 L590.3,216.9 L599.6,224 L597.3,232.5 L585.4,233.5 L575.3,225.8Z" fill="#d3ebef"/><path d="M575.3,225.8 L585.4,233.5 L585.4,245.9 L575.8,251.8 L565.1,243.6 L565.7,231Z" fill="#d3ebef"/><path d="M585.4,245.9 L597,244.8 L598.8,249.6 L589.9,255.2 L577.3,256.3 L575.8,251.8Z" fill="#d3ebef"/><path d="M599.6,224 L602.8,231.8 L602.5,242.2 L598.8,249.6 L597,244.8 L597.3,232.5Z" fill="#d3ebef"/></g>
<path d="M609.4,237.1H611.9M613.1999999999999,237.1H617.1999999999999M619.0,237.1H621.5" stroke="#222" stroke-width="1" fill="none"/>
<path d="M607.9,237.1 l2.8,-1.4 v2.8z M623.0,237.1 l-2.8,-1.4 v2.8z" fill="#222"/>
</svg></body></html>
